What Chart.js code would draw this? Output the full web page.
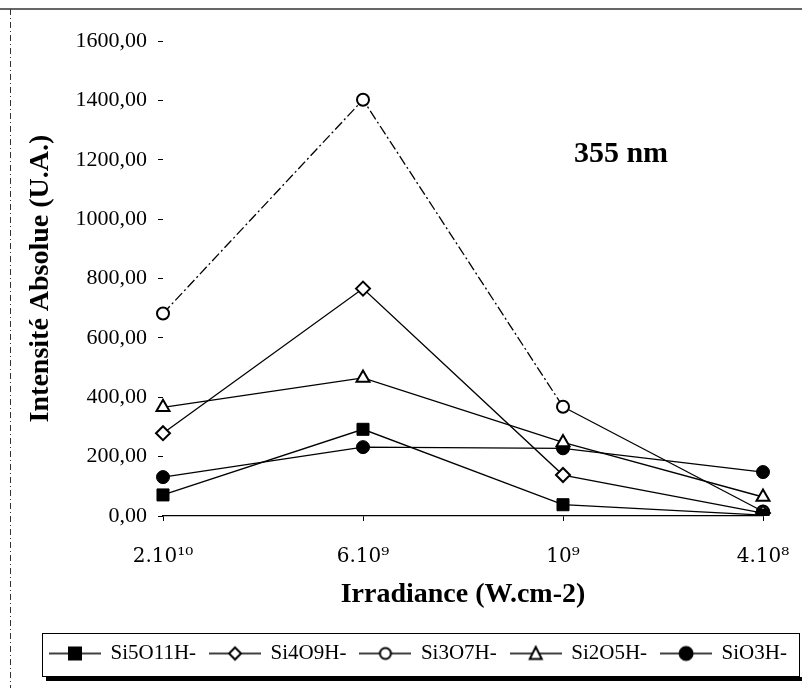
<!DOCTYPE html>
<html>
<head>
<meta charset="utf-8">
<script src="https://cdn.jsdelivr.net/npm/chart.js@4/dist/chart.umd.min.js"></script>
<style>
html,body{margin:0;padding:0;background:#fff;}
#wrap{width:802px;height:688px;}
</style>
</head>
<body>
<div id="wrap"><canvas id="c" width="802" height="688"></canvas></div>
<script>
// ---- data ----
const categories = ['2.10\u00B9\u2070', '6.10\u2079', '10\u2079', '4.10\u2078'];
const seriesNames = ['Si5O11H-', 'Si4O9H-', 'Si3O7H-', 'Si2O5H-', 'SiO3H-'];
const si5o11h = [71, 292, 38, 3];
const si4o9h = [279, 766, 138, 10];
const si3o7h = [682, 1402, 368, 15];
const si2o5h = [366, 465, 248, 64];
const sio3h = [131, 232, 228, 148];
const yTicks = [0, 200, 400, 600, 800, 1000, 1200, 1400, 1600];
const annotationText = '355 nm';

const SERIF = '"Liberation Serif", "Times New Roman", serif';
const SERIF2 = '"DejaVu Serif", serif';

// legend symbol: line with marker in the middle
function makeSymbol(kind, filled) {
  const c = document.createElement('canvas');
  c.width = 52; c.height = 18;
  const g = c.getContext('2d');
  g.strokeStyle = '#000'; g.lineWidth = 1.4;
  g.beginPath(); g.moveTo(0, 9); g.lineTo(52, 9); g.stroke();
  g.fillStyle = filled ? '#000' : '#fff';
  g.lineWidth = 2;
  g.beginPath();
  if (kind === 'rect') { g.rect(20, 3, 12, 12); }
  else if (kind === 'rectRot') { g.moveTo(26, 3); g.lineTo(32, 9); g.lineTo(26, 15); g.lineTo(20, 9); g.closePath(); }
  else if (kind === 'circle') { g.arc(26, 9, filled ? 6.5 : 5.5, 0, Math.PI * 2); }
  else if (kind === 'triangle') { g.moveTo(26, 2.5); g.lineTo(32, 14.5); g.lineTo(20, 14.5); g.closePath(); }
  g.fill(); g.stroke();
  return c;
}

const styles = [
  { kind: 'rect', filled: true, radius: 8.5 },
  { kind: 'rectRot', filled: false, radius: 7 },
  { kind: 'circle', filled: false, radius: 6 },
  { kind: 'triangle', filled: false, radius: 7.5 },
  { kind: 'circle', filled: true, radius: 6.5 }
];
const values = [si5o11h, si4o9h, si3o7h, si2o5h, sio3h];

const datasets = values.map((v, i) => {
  const s = styles[i];
  const ds = {
    label: seriesNames[i],
    data: v,
    borderColor: '#000',
    borderWidth: 1.3,
    backgroundColor: s.filled ? '#000' : '#fff',
    pointStyle: s.kind,
    pointRadius: s.radius,
    pointHoverRadius: s.radius,
    pointBackgroundColor: s.filled ? '#000' : '#fff',
    pointBorderColor: '#000',
    pointBorderWidth: s.filled ? 1 : 2,
    tension: 0,
    fill: false
  };
  if (i === 2) {
    ds.segment = { borderDash: ctx => ctx.p0DataIndex < 2 ? [10, 3, 2, 3] : undefined };
  }
  return ds;
});

const symbols = styles.map(s => makeSymbol(s.kind, s.filled));

const framePlugin = {
  id: 'frame',
  beforeDraw(chart) {
    const g = chart.ctx;
    g.save();
    g.fillStyle = '#fff';
    g.fillRect(0, 0, chart.width, chart.height);
    g.strokeStyle = '#333';
    g.lineWidth = 1.5;
    g.beginPath(); g.moveTo(0, 9); g.lineTo(802, 9); g.stroke();
    g.lineWidth = 1;
    g.setLineDash([6, 3, 1, 3]);
    g.beginPath(); g.moveTo(10.5, 9); g.lineTo(10.5, 688); g.stroke();
    g.restore();
  },
  afterDraw(chart) {
    const g = chart.ctx;
    g.save();
    // legend frame with shadow
    g.strokeStyle = '#000';
    g.lineWidth = 1;
    g.strokeRect(42.5, 633.5, 757, 43);
    g.fillStyle = '#000';
    g.fillRect(46, 677, 756, 4);
    // annotation
    g.fillStyle = '#000';
    g.font = 'bold 30px ' + SERIF;
    g.textAlign = 'center';
    g.textBaseline = 'middle';
    g.fillText(annotationText, 621, 154);
    g.restore();
  }
};

new Chart(document.getElementById('c'), {
  type: 'line',
  data: { labels: categories, datasets },
  plugins: [framePlugin],
  options: {
    responsive: false,
    animation: false,
    devicePixelRatio: 1,
    layout: { padding: { left: 36, right: 0, top: 41, bottom: 14 } },
    plugins: {
      tooltip: { enabled: false },
      legend: {
        position: 'bottom',
        align: 'start',
        labels: {
          usePointStyle: true,
          pointStyleWidth: 50,
          padding: 14,
          color: '#000',
          font: { family: SERIF, size: 21 },
          generateLabels: chart => chart.data.datasets.map((d, i) => ({
            text: d.label,
            pointStyle: symbols[i],
            fillStyle: '#000',
            strokeStyle: '#000',
            lineWidth: 0,
            hidden: false,
            datasetIndex: i
          }))
        }
      }
    },
    scales: {
      x: {
        type: 'category',
        offset: false,
        afterFit(s) { s.height = 113; s.paddingLeft = 0; s.paddingRight = 0; },
        border: { display: true, color: '#000', width: 1.3 },
        grid: { drawOnChartArea: false, drawTicks: true, tickLength: 5, color: '#000' },
        ticks: { padding: 24, color: '#000', font: { family: SERIF2, size: 20 }, maxRotation: 0, autoSkip: false },
        title: {
          display: true, text: 'Irradiance (W.cm-2)', color: '#000',
          font: { family: SERIF, size: 28, weight: 'bold', lineHeight: 1 },
          padding: { top: 0, bottom: 20 }
        }
      },
      y: {
        type: 'linear',
        min: 0, max: 1600,
        afterBuildTicks(s) { s.ticks = yTicks.map(v => ({ value: v })); },
        afterFit(s) { s.width = 127; },
        border: { display: false },
        grid: { drawOnChartArea: false, drawTicks: true, tickLength: 5, color: '#000' },
        ticks: {
          padding: 11, color: '#000', font: { family: SERIF, size: 22 },
          callback: v => Number(v).toFixed(2).replace('.', ',')
        },
        title: {
          display: true, text: 'Intensité Absolue (U.A.)', color: '#000',
          font: { family: SERIF, size: 28, weight: 'bold', lineHeight: 1 },
          padding: { top: -9, bottom: 0 }
        }
      },
      yRight: {
        type: 'linear',
        position: 'right',
        display: true,
        afterFit(s) { s.width = 39; },
        border: { display: false },
        grid: { display: false },
        ticks: { display: false }
      }
    }
  }
});
</script>
</body>
</html>
